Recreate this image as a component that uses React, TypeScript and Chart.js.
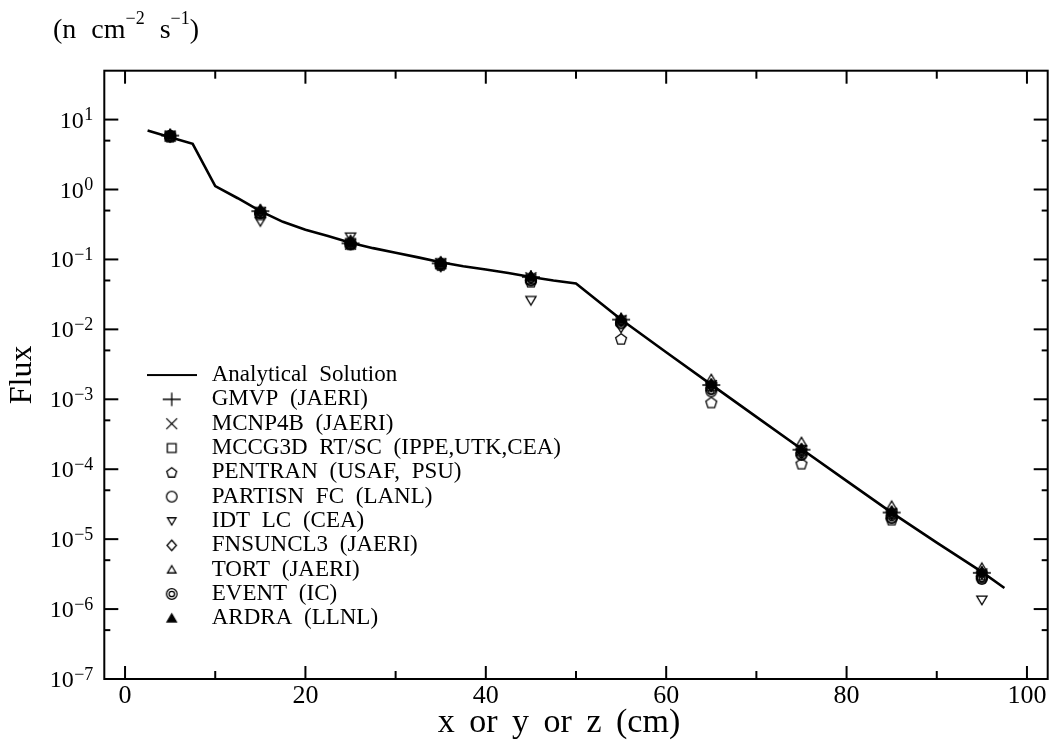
import React, { useEffect, useRef } from 'react';
import { Chart, registerables } from 'chart.js';

Chart.register(...registerables);

// ---------- data ----------
const positions = [5, 15, 25, 35, 45, 55, 65, 75, 85, 95];

const analyticX = [2.5, 5, 7.5, 10, 12.5, 15, 17.5, 20, 22.5, 25, 27.5, 30, 32.5, 35, 37.5, 40, 42.5, 45, 47.5, 50, 55, 60, 65, 70, 75, 80, 85, 90, 95, 97.5];
const analyticFlux = [7.0, 5.6, 4.5, 1.12, 0.75, 0.49, 0.345, 0.266, 0.216, 0.173, 0.145, 0.125, 0.107, 0.091, 0.08, 0.0716, 0.0638, 0.0562, 0.05, 0.0453, 0.0138, 4.7e-3, 1.62e-3, 5.6e-4, 1.95e-4, 6.8e-5, 2.4e-5, 8.9e-6, 3.4e-6, 2.0e-6];

const gmvp = [5.9, 0.49, 0.17, 0.088, 0.056, 0.0138, 1.6e-3, 1.9e-4, 2.4e-5, 3.3e-6];
const mcnp4b = [5.8, 0.47, 0.165, 0.087, 0.055, 0.0135, 1.58e-3, 1.85e-4, 2.35e-5, 3.2e-6];
const mccg3d = [5.8, 0.47, 0.17, 0.087, 0.053, 0.0132, 1.55e-3, 1.85e-4, 2.3e-5, 3.1e-6];
const pentran = [5.7, 0.44, 0.165, 0.083, 0.048, 0.0073, 9.0e-4, 1.2e-4, 1.9e-5, 2.8e-6];
const partisn = [5.8, 0.46, 0.168, 0.085, 0.051, 0.0122, 1.4e-3, 1.65e-4, 2.05e-5, 2.85e-6];
const idtlc = [5.6, 0.35, 0.21, 0.078, 0.026, 0.0105, 1.5e-3, 1.7e-4, 2.2e-5, 1.35e-6];
const fnsuncl3 = [5.9, 0.48, 0.17, 0.088, 0.055, 0.0135, 1.6e-3, 1.9e-4, 2.4e-5, 3.3e-6];
const tort = [6.2, 0.52, 0.19, 0.093, 0.058, 0.0145, 1.95e-3, 2.45e-4, 3.0e-5, 3.9e-6];
const eventIc = [5.8, 0.46, 0.165, 0.086, 0.05, 0.0125, 1.3e-3, 1.6e-4, 2.0e-5, 2.7e-6];
const ardra = [6.0, 0.5, 0.175, 0.09, 0.057, 0.014, 1.65e-3, 1.95e-4, 2.5e-5, 3.4e-6];

const seriesLabels = [
  'GMVP (JAERI)',
  'MCNP4B (JAERI)',
  'MCCG3D RT/SC (IPPE,UTK,CEA)',
  'PENTRAN (USAF, PSU)',
  'PARTISN FC (LANL)',
  'IDT LC (CEA)',
  'FNSUNCL3 (JAERI)',
  'TORT (JAERI)',
  'EVENT (IC)',
  'ARDRA (LLNL)',
];
const seriesValues = [gmvp, mcnp4b, mccg3d, pentran, partisn, idtlc, fnsuncl3, tort, eventIc, ardra];
const seriesMarkers = ['plus', 'cross', 'square', 'pentagon', 'circle', 'triDown', 'diamond', 'triUp', 'dblCircle', 'triFilled'];

const analyticLabel = 'Analytical Solution';
const xTitle = 'x or y or z (cm)';
const yTitle = 'Flux';

const xMajorTicks = [0, 20, 40, 60, 80, 100];
const xMinorTicks = [10, 30, 50, 70, 90];
const yMajorTicks = [1e-7, 1e-6, 1e-5, 1e-4, 1e-3, 1e-2, 1e-1, 1e0, 1e1];
const yMinorTicks = [5e-7, 5e-6, 5e-5, 5e-4, 5e-3, 5e-2, 5e-1, 5e0];

// ---------- helpers ----------
const FONT = '"Liberation Serif", "Times New Roman", serif';

function makeMarker(kind: string, s: number): HTMLCanvasElement {
  const c = document.createElement('canvas');
  const w = kind === 'line' ? 50 : Math.ceil(s + 4);
  const h = kind === 'line' ? 6 : w;
  c.width = w;
  c.height = h;
  const g = c.getContext('2d') as CanvasRenderingContext2D;
  g.strokeStyle = '#000';
  g.fillStyle = '#000';
  g.lineWidth = 1.3;
  const cx = w / 2;
  const cy = h / 2;
  const r = s / 2;
  g.beginPath();
  const poly = (pts: number[][]) => {
    pts.forEach((p, i) => (i === 0 ? g.moveTo(p[0], p[1]) : g.lineTo(p[0], p[1])));
    g.closePath();
  };
  switch (kind) {
    case 'line':
      g.lineWidth = 2.2;
      g.moveTo(0, cy);
      g.lineTo(w, cy);
      g.stroke();
      break;
    case 'plus':
      g.moveTo(cx - r, cy);
      g.lineTo(cx + r, cy);
      g.moveTo(cx, cy - r * 0.75);
      g.lineTo(cx, cy + r * 0.75);
      g.stroke();
      break;
    case 'cross': {
      const d = r * 0.72;
      g.moveTo(cx - d, cy - d);
      g.lineTo(cx + d, cy + d);
      g.moveTo(cx + d, cy - d);
      g.lineTo(cx - d, cy + d);
      g.stroke();
      break;
    }
    case 'square': {
      const q = r * 0.8;
      g.rect(cx - q, cy - q, 2 * q, 2 * q);
      g.stroke();
      break;
    }
    case 'pentagon': {
      const pts: number[][] = [];
      for (let i = 0; i < 5; i++) {
        const a = -Math.PI / 2 + (i * 2 * Math.PI) / 5;
        pts.push([cx + r * 0.95 * Math.cos(a), cy + 0.5 + r * 0.95 * Math.sin(a)]);
      }
      poly(pts);
      g.stroke();
      break;
    }
    case 'circle':
      g.arc(cx, cy, r * 0.88, 0, Math.PI * 2);
      g.stroke();
      break;
    case 'triDown':
      poly([[cx - r * 0.85, cy - r * 0.65], [cx + r * 0.85, cy - r * 0.65], [cx, cy + r * 0.8]]);
      g.stroke();
      break;
    case 'diamond':
      poly([[cx, cy - r * 0.95], [cx + r * 0.85, cy], [cx, cy + r * 0.95], [cx - r * 0.85, cy]]);
      g.stroke();
      break;
    case 'triUp':
      poly([[cx - r * 0.85, cy + r * 0.65], [cx + r * 0.85, cy + r * 0.65], [cx, cy - r * 0.8]]);
      g.stroke();
      break;
    case 'dblCircle':
      g.arc(cx, cy, r * 0.88, 0, Math.PI * 2);
      g.moveTo(cx + r * 0.45, cy);
      g.arc(cx, cy, r * 0.45, 0, Math.PI * 2);
      g.stroke();
      break;
    case 'triFilled':
      poly([[cx - r * 0.85, cy + r * 0.65], [cx + r * 0.85, cy + r * 0.65], [cx, cy - r * 0.8]]);
      g.fill();
      g.stroke();
      break;
  }
  return c;
}

const chartMarkerSize: Record<string, number> = { plus: 18, cross: 15, square: 12, pentagon: 12, circle: 12, triDown: 12, diamond: 12, triUp: 12, dblCircle: 12, triFilled: 12 };
const legendMarkerSize: Record<string, number> = { plus: 18, cross: 15, square: 11, pentagon: 11, circle: 12, triDown: 10, diamond: 11, triUp: 10, dblCircle: 12, triFilled: 11 };

export default function App() {
  const canvasRef = useRef<HTMLCanvasElement | null>(null);

  useEffect(() => {
    if (!canvasRef.current) return;
    const chartImgs = seriesMarkers.map((m) => makeMarker(m, chartMarkerSize[m]));
    const legendImgs = [makeMarker('line', 50), ...seriesMarkers.map((m) => makeMarker(m, legendMarkerSize[m]))];

    const datasets: any[] = [
      {
        label: analyticLabel,
        data: analyticX.map((x, i) => ({ x, y: analyticFlux[i] })),
        showLine: true,
        borderColor: '#000',
        borderWidth: 2.6,
        pointRadius: 0,
        pointHoverRadius: 0,
        tension: 0,
        order: 100,
      },
      ...seriesLabels.map((label, k) => ({
        label,
        data: positions.map((x, i) => ({ x, y: seriesValues[k][i] })),
        showLine: false,
        pointStyle: chartImgs[k],
        pointRadius: 5,
        pointHoverRadius: 5,
        borderColor: '#000',
        backgroundColor: '#000',
        order: seriesMarkers[k] === 'triFilled' ? -1 : 10 - k,
      })),
    ];

    const framePlugin = {
      id: 'framePlugin',
      afterLayout(chart: any) {
        const lg = chart.legend;
        const a = chart.chartArea;
        if (lg && a) {
          lg.left = 141.9;
          lg.top = 362.2;
          lg.right = a.right;
          lg.bottom = a.bottom;
          lg.width = lg.right - lg.left;
          lg.height = lg.bottom - lg.top;
        }
        // the original x-axis caption sits slightly left of the plot centre
        const xs = chart.scales.x;
        if (xs && a) {
          xs.left = a.left - 34;
          xs.right = a.right;
        }
      },
      beforeDraw(chart: any) {
        chart.ctx.wordSpacing = '6px';
      },
      afterDatasetsDraw(chart: any) {
        const { ctx, chartArea: a, scales } = chart;
        const xs = scales.x;
        const ys = scales.y;
        ctx.save();
        ctx.strokeStyle = '#000';
        ctx.lineWidth = 2;
        ctx.lineCap = 'butt';
        ctx.strokeRect(a.left, a.top, a.right - a.left, a.bottom - a.top);
        const seg = (x1: number, y1: number, x2: number, y2: number) => {
          ctx.beginPath();
          ctx.moveTo(x1, y1);
          ctx.lineTo(x2, y2);
          ctx.stroke();
        };
        xMajorTicks.forEach((v) => {
          const p = xs.getPixelForValue(v);
          seg(p, a.bottom, p, a.bottom - 13);
          seg(p, a.top, p, a.top + 13);
        });
        xMinorTicks.forEach((v) => {
          const p = xs.getPixelForValue(v);
          seg(p, a.bottom, p, a.bottom - 8);
          seg(p, a.top, p, a.top + 8);
        });
        yMajorTicks.forEach((v) => {
          const p = ys.getPixelForValue(v);
          seg(a.left, p, a.left + 14, p);
          seg(a.right, p, a.right - 14, p);
        });
        yMinorTicks.forEach((v) => {
          const p = ys.getPixelForValue(v);
          seg(a.left, p, a.left + 6, p);
          seg(a.right, p, a.right - 6, p);
        });

        // y tick labels: 10 with raised exponent, right-aligned as a whole
        ctx.fillStyle = '#000';
        ctx.textBaseline = 'alphabetic';
        const rightEdge = a.left - 11;
        yMajorTicks.forEach((v) => {
          const p = ys.getPixelForValue(v);
          const exp = String(Math.round(Math.log10(v))).replace('-', '\u2212');
          ctx.font = `18px ${FONT}`;
          const we = ctx.measureText(exp).width;
          ctx.textAlign = 'left';
          ctx.fillText(exp, rightEdge - we, p + 0.5);
          ctx.font = `24px ${FONT}`;
          ctx.textAlign = 'right';
          ctx.fillText('10', rightEdge - we - 0.5, p + 8);
        });
        ctx.restore();
      },
    };

    const chart = new Chart(canvasRef.current, {
      type: 'scatter',
      data: { datasets },
      plugins: [framePlugin],
      options: {
        responsive: false,
        animation: false,
        events: [],
        layout: { padding: { top: 70.7, right: 7.3, bottom: 0, left: 0 } },
        plugins: {
          tooltip: { enabled: false },
          title: { display: false },
          legend: {
            display: true,
            position: 'chartArea' as any,
            align: 'start',
            labels: {
              usePointStyle: true,
              pointStyleWidth: 57,
              boxHeight: 10,
              padding: 1.33,
              color: '#000',
              font: { family: FONT, size: 23 },
              generateLabels: () =>
                [analyticLabel, ...seriesLabels].map((text, i) => ({
                  text,
                  pointStyle: legendImgs[i],
                  datasetIndex: i,
                  fillStyle: '#000',
                  strokeStyle: '#000',
                  lineWidth: 0,
                  hidden: false,
                  fontColor: '#000',
                })),
            },
          },
        },
        scales: {
          x: {
            type: 'linear',
            min: -2.3,
            max: 102.3,
            afterBuildTicks: (s: any) => {
              s.ticks = xMajorTicks.map((value) => ({ value }));
            },
            afterFit: (s: any) => {
              s.height = 70;
            },
            grid: { display: false, drawTicks: false },
            border: { display: false },
            ticks: {
              color: '#000',
              font: { family: FONT, size: 26 },
              padding: 2,
              maxRotation: 0,
              autoSkip: false,
              callback: (v: any) => String(v),
            },
            title: {
              display: true,
              text: xTitle,
              color: '#000',
              font: { family: FONT, size: 34 },
              padding: { top: 0, bottom: 6 },
            },
          },
          y: {
            type: 'logarithmic',
            min: 1e-7,
            max: 50,
            afterBuildTicks: (s: any) => {
              s.ticks = yMajorTicks.map((value) => ({ value }));
            },
            afterFit: (s: any) => {
              s.width = 104.3;
            },
            grid: { display: false, drawTicks: false },
            border: { display: false },
            ticks: { display: false },
            title: {
              display: true,
              text: yTitle,
              color: '#000',
              font: { family: FONT, size: 32 },
              padding: { top: 3, bottom: 0 },
            },
          },
        },
      } as any,
    });
    return () => chart.destroy();
  }, []);

  const supStyle: React.CSSProperties = { position: 'relative', top: -14, fontSize: 18 };
  return (
    <div style={{ position: 'fixed', left: 0, top: 0, width: 1055, height: 749, background: '#fff' }}>
      <canvas ref={canvasRef} width={1055} height={749} style={{ position: 'absolute', left: 0, top: 0 }} />
      <div
        style={{
          position: 'absolute',
          left: 53,
          top: 14.5,
          fontFamily: FONT,
          fontSize: 28,
          lineHeight: '28px',
          wordSpacing: 8,
          whiteSpace: 'nowrap',
          color: '#000',
        }}
      >
        (n cm<span style={supStyle}>{'\u22122'}</span> s<span style={supStyle}>{'\u22121'}</span>)
      </div>
    </div>
  );
}
